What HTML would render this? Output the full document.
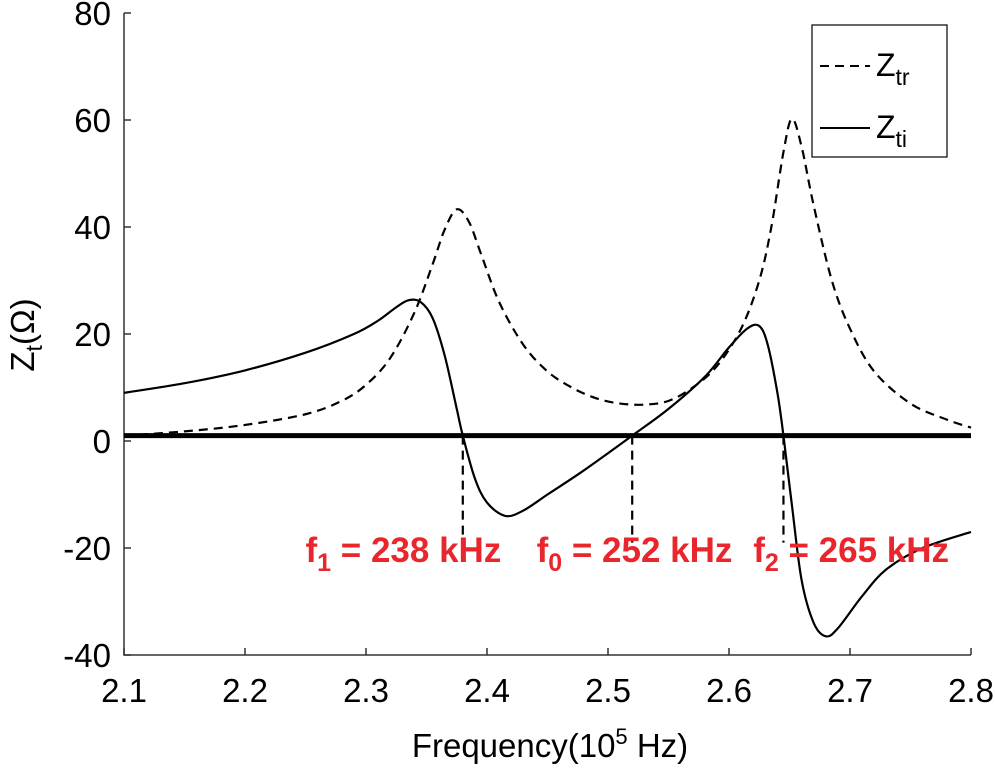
<!DOCTYPE html>
<html><head><meta charset="utf-8"><style>
body{margin:0;background:#fff}
svg{font-family:"Liberation Sans",Arial,sans-serif}
</style></head><body>
<svg id="chart" width="995" height="771" viewBox="0 0 995 771" xmlns="http://www.w3.org/2000/svg">
<g id="axes"></g>
<g id="series"></g>
<g id="annot"></g>
<g>
<rect x="812" y="25" width="135" height="132" fill="#fff" stroke="#000" stroke-width="1.2"/>
<line x1="820" y1="66" x2="870" y2="66" stroke="#000" stroke-width="2" stroke-dasharray="9,6"/>
<text x="876" y="76" font-size="32">Z<tspan font-size="23" dy="9">tr</tspan></text>
<line x1="820" y1="128" x2="870" y2="128" stroke="#000" stroke-width="2"/>
<text x="876" y="138" font-size="32">Z<tspan font-size="23" dy="9">ti</tspan></text>
</g>
<text x="550" y="757" font-size="33" text-anchor="middle">Frequency(10<tspan font-size="22" dy="-13">5</tspan><tspan dy="13"> Hz)</tspan></text>
<text transform="translate(34,335) rotate(-90)" font-size="33" text-anchor="middle">Z<tspan font-size="23" dy="8">t</tspan><tspan dy="-8">(Ω)</tspan></text>
</svg>
<script>
const xTicks=[2.1,2.2,2.3,2.4,2.5,2.6,2.7,2.8];
const xTickLabels=["2.1","2.2","2.3","2.4","2.5","2.6","2.7","2.8"];
const yTicks=[-40,-20,0,20,40,60,80];
const yTickLabels=["-40","-20","0","20","40","60","80"];
const ztrX=[2.10,2.15,2.20,2.25,2.28,2.30,2.32,2.34,2.355,2.365,2.375,2.385,2.395,2.41,2.43,2.45,2.47,2.49,2.51,2.53,2.55,2.57,2.59,2.61,2.625,2.635,2.645,2.652,2.66,2.67,2.685,2.70,2.72,2.75,2.78,2.80];
const ztrY=[1.0,1.8,3.0,5.0,7.5,10.5,15.5,24,33,39.5,43.3,41,35,26,18,13,10,8,7,6.8,7.5,10,14,21,30,40,54,60.2,55,44,30,21,13,7,4,2.5];
const ztiX=[2.10,2.15,2.20,2.25,2.29,2.31,2.325,2.335,2.345,2.355,2.365,2.375,2.38,2.39,2.40,2.415,2.43,2.45,2.48,2.52,2.55,2.58,2.60,2.615,2.625,2.632,2.64,2.645,2.652,2.66,2.67,2.68,2.69,2.71,2.73,2.76,2.80];
const ztiY=[9,10.8,13.2,16.5,20,22.5,25,26.3,26,23,16,6,1,-7,-11.5,-14,-13,-10,-5.5,1,6,12,17.5,21,21.5,18,9,1,-12,-26,-34,-36.5,-35,-29,-24,-20,-17];
const baseline=1;
const markerF=[2.38,2.52,2.645];
const markerSub=["1","0","2"];
const markerText=[" = 238 kHz"," = 252 kHz"," = 265 kHz"];
const markerLabelX=[2.25,2.441,2.62];
const markerBottom=-19;

const X=v=>124+(v-2.1)/0.7*847;
const Y=v=>441-v*5.35;
const NS="http://www.w3.org/2000/svg";
function mk(tag,attrs,parent){const e=document.createElementNS(NS,tag);for(const k in attrs)e.setAttribute(k,attrs[k]);parent.appendChild(e);return e;}
const axes=document.getElementById('axes'),series=document.getElementById('series'),annot=document.getElementById('annot');
let a=mk('path',{d:`M${X(2.1)} ${Y(80)}V${Y(-40)}H${X(2.8)}`,fill:'none',stroke:'#333','stroke-width':1.5},axes);


xTicks.forEach((t,i)=>{
 const l=mk('line',{x1:X(t),x2:X(t),y1:Y(-40),y2:Y(-40)-7,stroke:'#333','stroke-width':1.5},axes);
 
 
 const s=mk('text',{x:X(t),y:Y(-40)+47,'font-size':33,'text-anchor':'middle'},axes);s.textContent=xTickLabels[i];
 
 
});
yTicks.forEach((t,i)=>{
 const l=mk('line',{x1:X(2.1),x2:X(2.1)+7,y1:Y(t),y2:Y(t),stroke:'#333','stroke-width':1.5},axes);
 
 
 const s=mk('text',{x:X(2.1)-13,y:Y(t)+12,'font-size':33,'text-anchor':'end'},axes);s.textContent=yTickLabels[i];
 
 
});
function smooth(xs,ys){const p=xs.map((x,i)=>[X(x),Y(ys[i])]);let d=`M${p[0][0]} ${p[0][1]}`;
 for(let i=0;i<p.length-1;i++){const p0=p[i-1]||p[i],p1=p[i],p2=p[i+1],p3=p[i+2]||p[i+1];
 d+=`C${p1[0]+(p2[0]-p0[0])/6} ${p1[1]+(p2[1]-p0[1])/6} ${p2[0]-(p3[0]-p1[0])/6} ${p2[1]-(p3[1]-p1[1])/6} ${p2[0]} ${p2[1]}`;}return d;}
const bl=mk('line',{x1:X(2.1),x2:X(2.8),y1:Y(baseline),y2:Y(baseline),stroke:'#000','stroke-width':5},series);


const r=mk('path',{d:smooth(ztrX,ztrY),fill:'none',stroke:'#000','stroke-width':2.2,'stroke-dasharray':'9,6'},series);


const im=mk('path',{d:smooth(ztiX,ztiY),fill:'none',stroke:'#000','stroke-width':2.2},series);


markerF.forEach((f,i)=>{
 const l=mk('line',{x1:X(f),x2:X(f),y1:Y(baseline),y2:Y(markerBottom),stroke:'#000','stroke-width':2.2,'stroke-dasharray':'9,6'},annot);
 
 
 const t=mk('text',{x:X(markerLabelX[i]),y:562,'font-size':35,'font-weight':'bold',fill:'#e8262b'},annot);
 
 
 const a1=mk('tspan',{},t);a1.textContent='f';
 const a2=mk('tspan',{'font-size':25,dy:9},t);a2.textContent=markerSub[i];
 const a3=mk('tspan',{dy:-9},t);a3.textContent=markerText[i];
});
</script>
</body></html>
